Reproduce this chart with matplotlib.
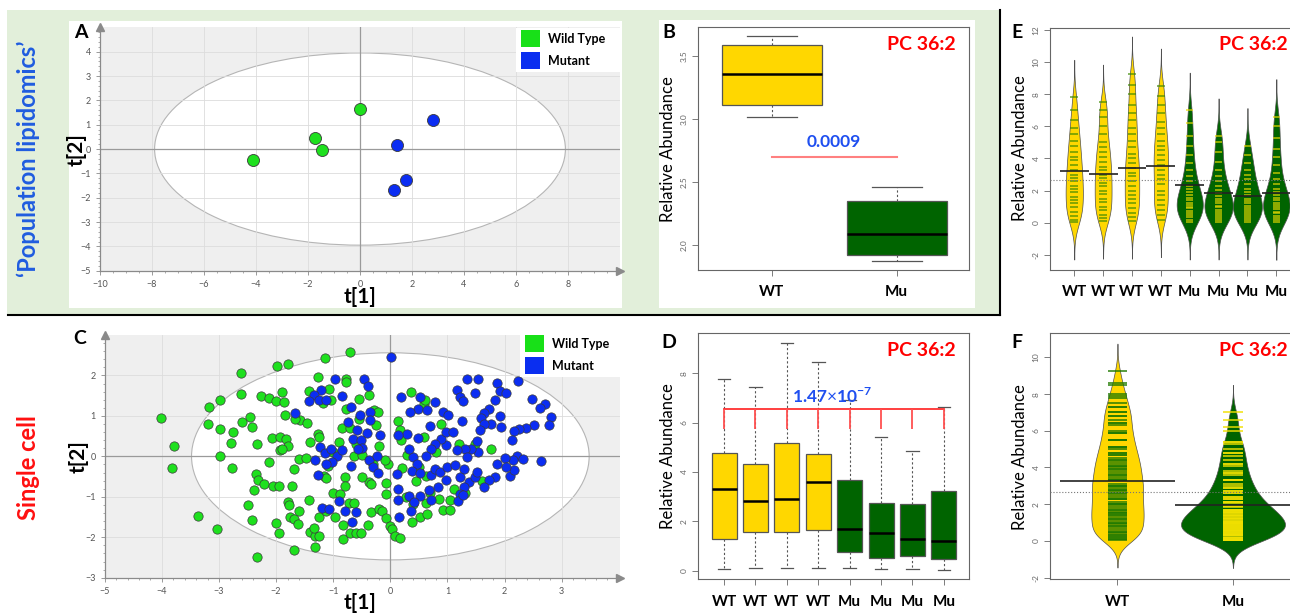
import numpy as np
import matplotlib
matplotlib.use('Agg')
import matplotlib.pyplot as plt
from matplotlib.patches import Ellipse, Rectangle
from matplotlib.lines import Line2D

plt.rcParams['font.family'] = ['Lato', 'DejaVu Sans']
plt.rcParams['mathtext.fontset'] = 'custom'
plt.rcParams['mathtext.rm'] = 'Lato'
plt.rcParams['mathtext.bf'] = 'Lato:bold'

W, H = 1290, 615

# ---------------- data ----------------

# A: PCA scores, population lipidomics
a_wt_t1 = [0.0, -1.75, -1.45, -4.1]
a_wt_t2 = [1.65, 0.47, -0.02, -0.43]
a_mu_t1 = [2.8, 1.42, 1.78, 1.3]
a_mu_t2 = [1.2, 0.18, -1.28, -1.7]

# C: PCA scores, single cells (t[1], t[2])
c_wt = np.array([
    (-4.02, 0.95), (-3.79, 0.26), (-3.82, -0.28), (-3.37, -1.47), (-3.04, -1.80), (-2.34, -2.48),
    (-2.61, 2.05), (-1.98, 2.23), (-1.79, 2.29), (-1.15, 2.43), (-0.70, 2.57), (-3.17, 1.23),
    (-2.98, 1.39), (-2.61, 1.54), (-3.20, 0.81), (-2.99, 0.67), (-2.76, 0.60), (-2.60, 0.84),
    (-2.46, 0.98), (-2.43, 0.73), (-2.79, 0.34), (-2.34, 0.31), (-2.99, 0.00), (-2.77, -0.28),
    (-2.36, -0.43), (-2.31, -0.59), (-2.22, -0.68), (-2.39, -0.83), (-2.06, -0.73), (-1.95, -0.74),
    (-2.12, -0.13), (-2.49, -1.21), (-2.42, -1.57), (-2.01, -1.65), (-1.95, -1.90), (-2.26, 1.48),
    (-2.13, 1.45), (-2.00, 1.36), (-1.90, 1.60), (-1.86, 1.35), (-1.85, 1.01), (-2.07, 0.46),
    (-1.94, 0.49), (-1.82, 0.42), (-1.94, 0.15), (-1.80, 0.26), (-1.90, 0.18), (-1.80, -1.14),
    (-1.78, -1.21), (-1.76, -1.50), (-1.69, -1.55), (-1.60, -1.34), (-1.61, -1.68), (-1.69, -2.32),
    (-1.73, -0.73), (-1.68, -0.31), (-1.60, -0.06), (-1.48, -0.04), (-1.58, 0.89), (-1.46, 0.83),
    (-1.67, 0.92), (-1.43, -1.09), (-1.40, -1.88), (-1.32, -1.97), (-1.32, -2.24), (-1.25, -1.98),
    (-1.33, -1.77), (-1.25, -1.51), (-1.13, -1.36), (-0.96, -1.49), (-1.00, -0.90), (-0.88, -0.92),
    (-0.80, -0.51), (-0.80, -0.74), (-0.72, -1.15), (-0.64, -1.16), (-0.82, -1.69), (-0.82, -2.04),
    (-0.71, -1.89), (-0.60, -1.89), (-0.52, -1.89), (-0.39, -1.70), (-0.34, -1.37), (-0.19, -1.29),
    (-0.15, -1.36), (-0.07, -1.53), (0.00, -1.72), (0.03, -1.79), (0.08, -1.98), (0.17, -2.02),
    (-0.08, -0.93), (-0.37, -0.63), (-0.34, -0.68), (-0.07, -0.66), (-0.04, -0.19), (-1.27, 0.56),
    (-1.25, 0.49), (-1.17, -0.48), (-1.12, -0.54), (-1.26, 1.96), (-1.08, 1.66), (-1.04, 1.39),
    (-1.18, 1.31), (-1.43, 1.61), (-0.77, 1.90), (-0.78, 1.84), (-0.78, 1.16), (-0.54, 1.42),
    (-0.55, 0.93), (-0.37, 1.51), (-0.29, 1.15), (-0.22, 1.10), (-0.25, 0.77), (-0.19, 0.25),
    (-0.85, 0.71), (-0.71, 0.69), (-0.64, 0.00), (-0.50, 0.03), (0.13, 0.87), (0.17, 0.64),
    (0.36, 1.59), (0.59, 1.30), (0.60, 1.40), (0.18, 0.40), (0.30, 0.04), (0.51, -0.26),
    (0.63, -0.48), (0.59, 0.48), (0.27, -1.01), (0.39, -1.17), (0.52, -1.49), (0.65, -1.42),
    (0.62, -1.16), (0.38, -1.63), (0.92, -1.32), (1.04, -1.32), (1.04, -1.09), (1.11, -0.80),
    (0.89, 0.79), (1.48, 0.31), (1.76, 0.19), (-1.00, 0.10), (-0.90, 0.35), (-0.60, 0.30),
    (-0.30, -0.20), (-0.10, -0.10), (0.20, -0.30), (0.45, -0.60), (0.70, -0.90), (0.85, -1.05),
    (1.30, -0.90), (1.60, -0.60), (1.20, 0.30), (0.80, 0.10), (-1.40, 0.35), (-1.10, -0.25),
    (-0.50, -0.50),
])
c_mu = np.array([
    (0.01, 2.46), (-0.97, 1.90), (-0.46, 1.90), (-0.39, 1.74), (-1.22, 1.65), (-1.34, 1.52),
    (-1.25, 1.40), (-1.42, 1.36), (-1.13, 1.39), (-0.85, 1.48), (-1.67, 1.08), (-0.69, 1.22),
    (-0.53, 1.01), (-0.35, 1.10), (-0.35, 0.89), (-0.74, 0.84), (-0.58, 0.64), (-0.41, 0.58),
    (-0.18, 0.54), (-0.65, 0.43), (-0.52, 0.40), (-0.50, 0.21), (-0.56, 0.19), (-1.24, 0.23),
    (-1.15, 0.08), (-1.04, 0.19), (-0.94, 0.02), (-0.85, 0.15), (-1.02, -0.14), (-1.32, -0.10),
    (-1.13, -0.18), (-0.69, -0.24), (-0.37, -0.08), (-0.31, -0.26), (-0.23, 0.02), (-0.22, -0.41),
    (-1.27, -0.45), (-1.20, -1.27), (-1.07, -1.30), (-0.89, -1.11), (-0.80, -1.34), (-0.60, -1.38),
    (-0.67, -1.63), (0.18, 1.47), (0.52, 1.47), (0.78, 1.34), (0.48, 1.18), (0.34, 1.10),
    (0.65, 1.14), (0.69, 0.74), (0.92, 1.10), (1.01, 1.01), (1.25, 0.87), (1.16, 1.63),
    (1.22, 1.47), (1.27, 1.36), (1.35, 1.90), (1.54, 1.90), (1.49, 1.57), (1.86, 1.81),
    (1.92, 1.62), (2.02, 1.57), (1.84, 1.39), (1.73, 1.18), (1.64, 1.06), (1.59, 0.94),
    (1.92, 1.00), (1.93, 0.72), (1.76, 0.79), (1.64, 0.79), (1.57, 0.66), (1.51, 0.38),
    (2.23, 1.86), (2.48, 1.41), (2.71, 1.30), (2.62, 1.20), (2.81, 0.97), (2.78, 0.78),
    (2.51, 0.78), (2.37, 0.70), (2.26, 0.68), (2.16, 0.62), (2.13, 0.40), (2.22, 0.02),
    (2.32, -0.06), (2.64, -0.12), (2.14, -0.10), (2.00, -0.04), (2.09, -0.49), (2.16, -0.33),
    (2.02, -0.26), (1.86, -0.18), (1.83, -0.51), (1.73, -0.59), (1.64, -0.76), (1.54, 0.11),
    (1.41, 0.17), (1.30, 0.19), (1.16, 0.15), (0.97, 0.27), (0.89, 0.44), (0.98, 0.60),
    (1.09, 0.60), (0.78, 0.31), (0.71, 0.19), (0.62, 0.02), (0.39, -0.02), (0.33, 0.19),
    (0.30, 0.56), (0.49, 0.45), (0.14, 0.52), (0.46, -0.18), (0.38, -0.35), (0.52, -0.41),
    (0.71, -0.47), (0.78, -0.31), (0.87, -0.39), (1.00, -0.26), (1.13, -0.22), (1.29, -0.31),
    (1.22, -0.51), (1.38, -0.64), (1.48, -0.51), (1.51, -0.39), (1.29, -0.76), (1.22, -0.92),
    (0.97, -0.59), (0.84, -0.76), (0.68, -0.84), (0.52, -0.97), (0.33, -0.97), (0.41, -1.13),
    (0.72, -1.09), (1.18, -1.11), (1.27, -0.95), (0.14, -0.80), (0.11, -0.43), (0.13, -1.09),
    (0.36, -1.34), (0.15, -1.49), (1.35, -0.02),
])

groups = ['WT', 'Mu']
samples = ['WT', 'WT', 'WT', 'WT', 'Mu', 'Mu', 'Mu', 'Mu']

# B: population boxplots (whislo, q1, median, q3, whishi)
b_stats = [[3.02, 3.11, 3.36, 3.59, 3.66],
           [1.87, 1.92, 2.09, 2.35, 2.46]]
b_pvalue = '0.0009'
b_bar = 2.70

# D: single-cell boxplots per sample
d_stats = [[0.05, 1.28, 3.30, 4.78, 7.78],
           [0.09, 1.58, 2.81, 4.31, 7.43],
           [0.12, 1.55, 2.89, 5.16, 9.22],
           [0.09, 1.64, 3.61, 4.72, 8.46],
           [0.09, 0.77, 1.68, 3.68, 6.92],
           [0.05, 0.53, 1.51, 2.73, 5.43],
           [0.05, 0.58, 1.30, 2.69, 4.86],
           [0.03, 0.49, 1.22, 3.23, 6.65]]
d_bar = 6.54
d_drop = 5.73

# E: single-cell values per sample (bean lines)
e_values = [
    [0.05, 0.2, 0.45, 0.7, 0.95, 1.2, 1.4, 1.6, 1.9, 2.1, 2.3, 2.6, 2.8, 3.0, 3.3, 3.6, 3.9, 4.1,
     4.4, 4.8, 5.1, 5.5, 5.9, 6.4, 7.0, 7.8],
    [0.1, 0.3, 0.5, 0.8, 1.0, 1.3, 1.5, 1.8, 2.0, 2.3, 2.5, 2.8, 3.0, 3.3, 3.5, 3.8, 4.1, 4.4,
     4.7, 5.0, 5.5, 6.0, 6.6, 7.0, 7.5],
    [0.1, 0.35, 0.6, 0.9, 1.2, 1.5, 1.7, 2.0, 2.3, 2.6, 2.9, 3.1, 3.4, 3.7, 4.0, 4.3, 4.7, 5.1,
     5.5, 5.9, 6.4, 6.8, 7.3, 8.0, 8.6, 9.25],
    [0.2, 0.5, 0.8, 1.1, 1.4, 1.7, 2.0, 2.4, 2.7, 3.0, 3.3, 3.6, 3.9, 4.2, 4.5, 4.8, 5.1, 5.5,
     5.9, 6.3, 6.8, 7.3, 7.9, 8.5],
    [0.05, 0.2, 0.35, 0.5, 0.6, 0.75, 0.9, 1.0, 1.1, 1.25, 1.4, 1.55, 1.7, 1.9, 2.1, 2.3, 2.6,
     2.9, 3.3, 3.7, 4.2, 4.8, 5.4, 6.2, 7.0],
    [0.05, 0.15, 0.3, 0.45, 0.55, 0.7, 0.8, 0.95, 1.05, 1.2, 1.35, 1.5, 1.65, 1.85, 2.05, 2.3,
     2.6, 2.9, 3.3, 3.8, 4.4, 5.0, 5.4],
    [0.05, 0.15, 0.3, 0.4, 0.55, 0.65, 0.8, 0.9, 1.05, 1.2, 1.35, 1.5, 1.7, 1.9, 2.1, 2.4, 2.7,
     3.0, 3.3, 3.7, 4.2, 4.8],
    [0.03, 0.15, 0.3, 0.45, 0.6, 0.7, 0.85, 1.0, 1.1, 1.25, 1.4, 1.55, 1.7, 1.9, 2.1, 2.4, 2.7,
     3.1, 3.6, 4.1, 4.6, 5.3, 6.0, 6.6],
]
e_means = [3.2, 3.02, 3.39, 3.54, 2.33, 1.83, 1.69, 1.88]
e_overall = 2.66

# F: pooled WT / Mu cells
f_values = [sum(e_values[:4], []), sum(e_values[4:], [])]
f_means = [3.27, 1.94]
f_overall = 2.65

wt_col = '#ffd700'
mu_col = '#006400'
green_pt = '#1ee01e'
blue_pt = '#0b2df2'

fig = plt.figure(figsize=(W / 100, H / 100), dpi=100)


def add_ax(x0, y0, x1, y1):
    ax = fig.add_axes([x0 / W, 1 - y1 / H, (x1 - x0) / W, (y1 - y0) / H])
    ax.set_zorder(1)
    return ax


def ftext(x, y, s, **kw):
    fig.text(x / W, 1 - y / H, s, **kw)


def frect(x0, y0, x1, y1, color, z=0):
    fig.patches.append(Rectangle((x0 / W, 1 - y1 / H), (x1 - x0) / W, (y1 - y0) / H,
                                 transform=fig.transFigure, facecolor=color,
                                 edgecolor='none', zorder=z))


# background of the population row
frect(7, 10, 1000, 314, '#e2efda', -2)
frect(69, 21, 622, 308, 'white', -1)
frect(659, 20, 975, 308, 'white', -1)
fig.add_artist(Line2D([1000 / W, 1000 / W], [1 - 10 / H, 1 - 315 / H], color='black', lw=1.5))
fig.add_artist(Line2D([8 / W, 1000 / W], [1 - 315 / H, 1 - 315 / H], color='black', lw=1.5))

ftext(28, 159, '\u2018Population lipidomics\u2019', rotation=90, ha='center', va='center',
      fontsize=17, fontweight='bold', color='#1f5ce0')
ftext(28, 468, 'Single cell', rotation=90, ha='center', va='center',
      fontsize=17, fontweight='bold', color='#ff1010')


# ---------------- PCA panels ----------------
def pca_panel(ax, xlim, ylim, xticks, yticks, xgrid, ell):
    ax.set_facecolor('#efefef')
    ax.set_xlim(xlim)
    ax.set_ylim(ylim)
    ax.add_patch(Ellipse((0, 0), 2 * ell[0], 2 * ell[1], facecolor='white',
                         edgecolor='#b5b5b5', lw=0.8, zorder=0.5))
    for x in xgrid:
        ax.axvline(x, color='#dcdcdc', lw=0.6, zorder=0.7)
    for y in yticks:
        ax.axhline(y, color='#dcdcdc', lw=0.6, zorder=0.7)
    ax.axvline(0, color='#9a9a9a', lw=0.9, zorder=0.8)
    ax.axhline(0, color='#9a9a9a', lw=0.9, zorder=0.8)
    for s in ['top', 'right']:
        ax.spines[s].set_visible(False)
    for s in ['left', 'bottom']:
        ax.spines[s].set_color('#8a8a8a')
        ax.spines[s].set_linewidth(0.9)
    ax.set_xticks(xticks)
    ax.set_yticks(yticks)
    ax.tick_params(labelsize=6.5, labelcolor='#555555', color='#8a8a8a', length=3, width=0.6)
    ax.minorticks_on()
    ax.tick_params(which='minor', length=1.5, color='#8a8a8a', width=0.5)
    ax.plot(xlim[1], ylim[0], marker='>', ms=6, color='#8a8a8a', clip_on=False)
    ax.plot(xlim[0], ylim[1], marker='^', ms=6, color='#8a8a8a', clip_on=False)


def pca_legend(x0, y0):
    frect(x0, y0, 620, y0 + 44, 'white', 3)
    frect(x0 + 5, y0 + 2, x0 + 24, y0 + 19, '#18e018', 4)
    frect(x0 + 5, y0 + 24, x0 + 24, y0 + 41, '#0a2ef0', 4)
    ftext(x0 + 32, y0 + 11, 'Wild Type', fontsize=9, fontweight='bold', va='center', zorder=5)
    ftext(x0 + 32, y0 + 33, 'Mutant', fontsize=9, fontweight='bold', va='center', zorder=5)


axA = add_ax(100, 27.4, 620, 270.7)
pca_panel(axA, (-10, 10), (-5, 5), np.arange(-10, 9, 2), np.arange(-5, 5, 1),
          np.arange(-8, 10, 2), (7.9, 3.95))
axA.scatter(a_wt_t1, a_wt_t2, s=75, color=green_pt, edgecolors='#3a3a3a', linewidths=0.6, zorder=3)
axA.scatter(a_mu_t1, a_mu_t2, s=75, color=blue_pt, edgecolors='#3a3a3a', linewidths=0.6, zorder=3)
pca_legend(516, 28)
ftext(80.7, 33, 'A', fontsize=14, fontweight='bold', ha='center', va='center')
ftext(77, 150, 't[2]', fontsize=15, fontweight='bold', rotation=90, ha='center', va='center')
ftext(360, 297, 't[1]', fontsize=15, fontweight='bold', ha='center', va='center')

axC = add_ax(104.7, 335, 620, 577.7)
pca_panel(axC, (-5, 4.02), (-3, 3), np.arange(-5, 4, 1), np.arange(-3, 3, 1),
          np.arange(-4, 4, 1), (3.48, 2.56))
axC.scatter(c_wt[:, 0], c_wt[:, 1], s=45, color=green_pt, edgecolors='#3a3a3a', linewidths=0.5, zorder=3)
axC.scatter(c_mu[:, 0], c_mu[:, 1], s=45, color=blue_pt, edgecolors='#3a3a3a', linewidths=0.5, zorder=3)
pca_legend(520, 333)
ftext(80, 338, 'C', fontsize=14, fontweight='bold', ha='center', va='center')
ftext(79, 457, 't[2]', fontsize=15, fontweight='bold', rotation=90, ha='center', va='center')
ftext(360, 603, 't[1]', fontsize=15, fontweight='bold', ha='center', va='center')


# ---------------- R-style panels ----------------
def r_panel(ax, xlim, ylim, yticks, ylabels, labels):
    ax.set_xlim(xlim)
    ax.set_ylim(ylim)
    for s in ax.spines.values():
        s.set_color('#666666')
        s.set_linewidth(0.8)
    ax.set_yticks(yticks)
    ax.set_yticklabels(ylabels, rotation=90, va='center', fontsize=6, color='#666666')
    pos = np.arange(1, len(labels) + 1)
    ax.set_xticks(pos)
    ax.set_xticklabels(labels, fontsize=11, fontweight='bold')
    ax.tick_params(length=4, width=0.6, color='#666666')
    ax.tick_params(axis='x', pad=7)
    return pos


def boxes(ax, stats, colors):
    st = [dict(whislo=s[0], q1=s[1], med=s[2], q3=s[3], whishi=s[4], fliers=[]) for s in stats]
    bp = ax.bxp(st, positions=np.arange(1, len(st) + 1), widths=0.8, patch_artist=True,
                showfliers=False, capwidths=0.4, manage_ticks=False,
                boxprops=dict(edgecolor='#555555', lw=0.9),
                medianprops=dict(color='black', lw=1.8),
                whiskerprops=dict(color='#555555', lw=0.8, ls=(0, (2, 2))),
                capprops=dict(color='#555555', lw=0.9))
    for b, c in zip(bp['boxes'], colors):
        b.set_facecolor(c)


def kde(vals, grid, bw):
    v = np.asarray(vals)[:, None]
    z = (grid[None, :] - v) / bw
    return np.exp(-0.5 * z ** 2).sum(axis=0) / (len(vals) * bw * np.sqrt(2 * np.pi))


def beans(ax, data, colors, line_cols, bw, maxw, line_hw, line_alpha, lw):
    grids, dens = [], []
    for vals in data:
        g = np.linspace(min(vals) - 3 * bw, max(vals) + 3 * bw, 400)
        grids.append(g)
        dens.append(kde(vals, g, bw))
    scale = maxw / max(d.max() for d in dens)
    for p, (vals, g, d, c, lc) in enumerate(zip(data, grids, dens, colors, line_cols), start=1):
        ax.fill_betweenx(g, p - d * scale, p + d * scale, facecolor=c, edgecolor='#505050',
                         lw=0.5, zorder=2)
        ax.hlines(vals, p - line_hw, p + line_hw, colors=lc, lw=lw, alpha=line_alpha, zorder=3)


def pc_label(x, y):
    ftext(x, y, 'PC 36:2', fontsize=14, fontweight='bold', color='#ff0000', ha='right', va='center',
          zorder=5)


def ylab(x, y):
    ftext(x, y, 'Relative Abundance', fontsize=12, rotation=90, ha='center', va='center')


# B
axB = add_ax(698, 27, 969, 270)
boxes(axB, b_stats, [wt_col, mu_col])
r_panel(axB, (0.41, 2.58), (1.80, 3.734), [2.0, 2.5, 3.0, 3.5], ['2.0', '2.5', '3.0', '3.5'], groups)
axB.plot([1, 2], [b_bar, b_bar], color='#ff8080', lw=1.5)
axB.text(1.5, 2.82, b_pvalue, color='#1f4ff0', fontsize=12.5, fontweight='bold', ha='center', va='center')
pc_label(956, 45)
ylab(668, 149)
ftext(669, 32, 'B', fontsize=14, fontweight='bold', ha='center', va='center')

# D
axD = add_ax(698, 333.3, 969, 579.3)
boxes(axD, d_stats, [wt_col] * 4 + [mu_col] * 4)
posD = r_panel(axD, (0.17, 8.8), (-0.35, 9.62), [0, 2, 4, 6, 8], ['0', '2', '4', '6', '8'], samples)
axD.plot([posD[0], posD[-1]], [d_bar, d_bar], color='#ff3030', lw=1.3, zorder=4)
axD.vlines(posD, d_drop, d_bar, color='#ff5050', lw=1.3, zorder=4)
axD.text(4.46, 7.08, r'1.47$\times$10$^{\mathbf{-7}}$', color='#1f4ff0', fontsize=12.5,
         fontweight='bold', ha='center', va='center', zorder=5)
pc_label(956, 350)
ylab(668, 456)
ftext(669, 343, 'D', fontsize=14, fontweight='bold', ha='center', va='center')

# E
axE = add_ax(1050, 28.3, 1300, 270)
posE = r_panel(axE, (0.16, 8.82), (-2.94, 12.1), np.arange(-2, 13, 2),
               [str(v) for v in range(-2, 13, 2)], samples)
beans(axE, e_values, [wt_col] * 4 + [mu_col] * 4, ['#3c8a00'] * 4 + ['#e8d800'] * 4,
      bw=0.78, maxw=0.5, line_hw=0.13, line_alpha=0.8, lw=1.1)
axE.axhline(e_overall, color='#777777', ls=':', lw=0.8, zorder=4)
axE.hlines(e_means, posE - 0.5, posE + 0.5, color='#222222', lw=1.2, zorder=5)
pc_label(1288, 45)
ylab(1020, 148)
ftext(1017, 32, 'E', fontsize=14, fontweight='bold', ha='center', va='center')

# F
axF = add_ax(1050, 333.3, 1300, 579.3)
posF = r_panel(axF, (0.416, 2.58), (-2.09, 11.31), np.arange(-2, 11, 2),
               [str(v) for v in range(-2, 11, 2)], groups)
beans(axF, f_values, [wt_col, mu_col], ['#1f7a00', '#f0e000'],
      bw=0.5, maxw=0.45, line_hw=0.085, line_alpha=0.75, lw=1.4)
axF.axhline(f_overall, color='#777777', ls=':', lw=0.8, zorder=4)
axF.hlines(f_means, posF - 0.5, posF + 0.5, color='#222222', lw=1.2, zorder=5)
pc_label(1288, 350)
ylab(1020, 457)
ftext(1017, 343, 'F', fontsize=14, fontweight='bold', ha='center', va='center')

fig.savefig('out.png', dpi=100)
